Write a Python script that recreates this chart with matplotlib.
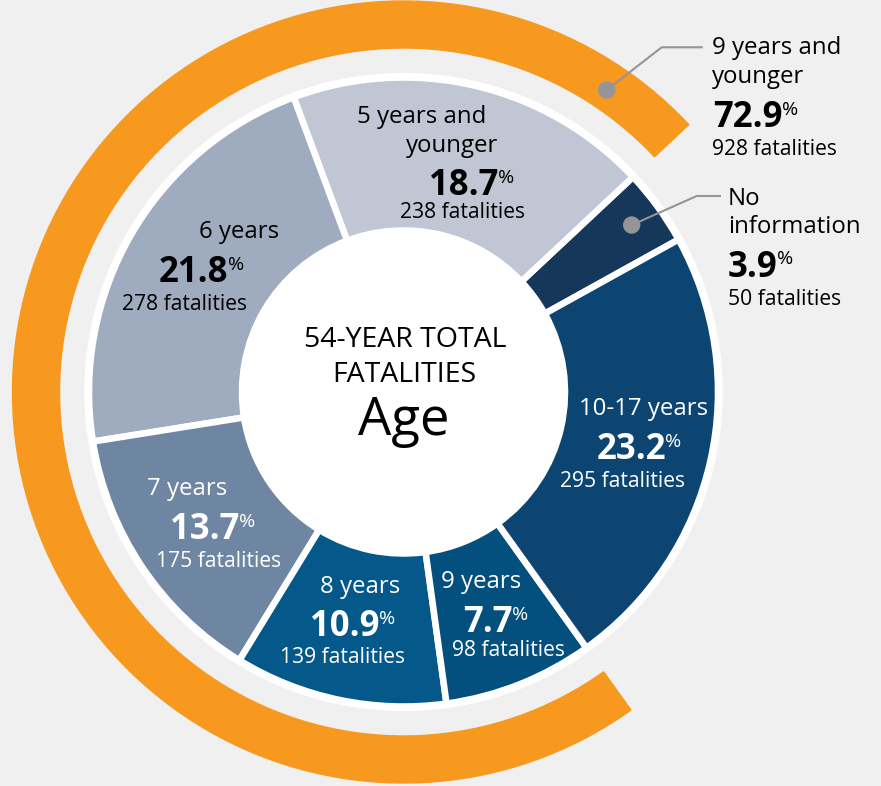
import matplotlib
matplotlib.use("Agg")
import matplotlib.pyplot as plt
from matplotlib.patches import Circle, Wedge

plt.rcParams['font.family'] = ['Open Sans', 'DejaVu Sans']

# data
groups = ['No information', '5 years and younger', '6 years', '7 years',
          '8 years', '9 years', '10-17 years']
fatalities = [50, 238, 278, 175, 139, 98, 295]
percents = ['3.9', '18.7', '21.8', '13.7', '10.9', '7.7', '23.2']
colors = ['#15375a', '#c0c6d3', '#9fabbf', '#6f86a3', '#04588a', '#034f7e', '#0c4571']
young_total = 928
young_pct = '72.9'

W, H = 881, 786
cx, cy = 403.5, 392
BG = '#f0f0f0'
GREY = '#939598'
ORANGE = '#f7991f'
START = 29

NAME_FS = 17.3
FAT_FS = 15.2
NUM_FS = 25

fig = plt.figure(figsize=(W / 100, H / 100), dpi=100, facecolor=BG)
ax = fig.add_axes([0, 0, 1, 1])
ax.set_facecolor(BG)

# white disc behind the pie (outer rim + hole in the middle)
ax.add_patch(Circle((cx, cy), 318.5, color='white', zorder=0))

# y axis is flipped below, so clockwise here is counter-clockwise on screen
wedges, _ = ax.pie(fatalities, colors=colors, startangle=-START, counterclock=False,
                   radius=314.5, center=(cx, cy), frame=True,
                   wedgeprops=dict(width=314.5 - 161.5, edgecolor='white', linewidth=4.7))

# orange arc spanning the "9 years and younger" wedges (screen angles -> data angles)
total = sum(fatalities)
a0 = START + 360 * fatalities[0] / total
a1 = START + 360 * (fatalities[0] + young_total) / total
ax.add_patch(Wedge((cx, cy), 391, -a1, -a0, width=47, color=ORANGE, zorder=1))

ax.set_xlim(0, W)
ax.set_ylim(H, 0)
ax.set_aspect('equal')
ax.axis('off')


def pct(x, y, txt, color, ha='center'):
    t = ax.text(x, y, txt, fontsize=NUM_FS, fontweight='bold', color=color,
                ha=ha, va='baseline')
    ax.annotate('%', xy=(1, 1), xycoords=t, xytext=(-0.5, -0.5), textcoords='offset points',
                fontsize=14, color=color, ha='left', va='top')


# labels inside the ring: (name lines, pct pos, fatalities pos, color)
inside = [
    (1, [('5 years and', 422, 123), ('younger', 452, 152)], (464, 195), (463, 218), 'black'),
    (2, [('6 years', 239, 238)], (193.5, 282), (184, 310), 'black'),
    (3, [('7 years', 187.5, 495)], (205, 539), (218.7, 567), 'white'),
    (4, [('8 years', 360, 593)], (345, 636), (342.7, 663), 'white'),
    (5, [('9 years', 481, 588)], (488, 632), (508, 656), 'white'),
    (6, [('10-17 years', 643.5, 415)], (631, 459), (623, 487), 'white'),
]
for i, names, ppos, fpos, col in inside:
    for s, x, y in names:
        ax.text(x, y, s, fontsize=NAME_FS, color=col, ha='center', va='baseline')
    pct(ppos[0], ppos[1], percents[i], col)
    ax.text(fpos[0], fpos[1], f'{fatalities[i]} fatalities', fontsize=FAT_FS,
            color=col, ha='center', va='baseline')

# centre text
ax.text(405, 347, '54-YEAR TOTAL', fontsize=20.5, ha='center', va='baseline', color='black')
ax.text(404.5, 382, 'FATALITIES', fontsize=20.5, ha='center', va='baseline', color='black')
ax.text(403.5, 435, 'Age', fontsize=38, ha='center', va='baseline', color='black')

# outside callouts
ax.plot([606.7, 661.7, 701.7], [90, 47.3, 47.3], color=GREY, lw=1.5, zorder=3)
ax.add_patch(Circle((606.7, 90), 8, color=GREY, zorder=4))
ax.text(711.7, 54.3, '9 years and', fontsize=NAME_FS, ha='left', va='baseline')
ax.text(711.7, 83.3, 'younger', fontsize=NAME_FS, ha='left', va='baseline')
pct(713, 127.3, young_pct, 'black', ha='left')
ax.text(711.7, 155, f'{young_total} fatalities', fontsize=FAT_FS, ha='left', va='baseline')

ax.plot([631.7, 696.7, 720], [225, 196, 196], color=GREY, lw=1.5, zorder=3)
ax.add_patch(Circle((631.7, 225), 8, color=GREY, zorder=4))
ax.text(728, 205, 'No', fontsize=NAME_FS, ha='left', va='baseline')
ax.text(728, 233.3, 'information', fontsize=NAME_FS, ha='left', va='baseline')
pct(728, 276.7, percents[0], 'black', ha='left')
ax.text(728, 305, f'{fatalities[0]} fatalities', fontsize=FAT_FS, ha='left', va='baseline')

fig.savefig('out.png', dpi=100, facecolor=BG)
